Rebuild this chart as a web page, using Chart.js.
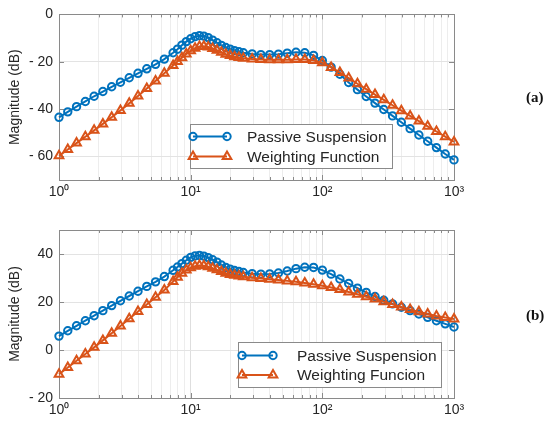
<!DOCTYPE html>
<html>
<head>
<meta charset="utf-8">
<script src="https://cdn.jsdelivr.net/npm/chart.js@4.4.0/dist/chart.umd.min.js"></script>
<style>
  body { margin: 0; background: #fff; width: 550px; height: 427px; position: relative; overflow: hidden; }
  canvas { position: absolute; left: 0; }
  #chartA { top: 0; }
  #chartB { top: 210px; }
  .tag { position: absolute; left: 526px; font: bold 15px "Liberation Serif", "Times New Roman", serif; line-height: 15px; color: #111; }
</style>
</head>
<body>
<canvas id="chartA" width="550" height="210"></canvas>
<canvas id="chartB" width="550" height="217"></canvas>
<div class="tag" style="top:90px">(a)</div>
<div class="tag" style="top:308px">(b)</div>
<script>
// frequency points (rad/s) (denser round the peak)
const freq = [1, 1.166, 1.359, 1.585, 1.848, 2.154, 2.512, 2.929, 3.415, 3.981,
  4.642, 5.412, 6.31, 7.356, 7.943, 8.577, 9.261, 10, 10.8, 11.66,
  12.59, 13.59, 14.68, 15.85, 17.11, 18.48, 19.95, 21.54, 23.26, 25.12,
  29.29, 34.15, 39.81, 46.42, 54.12, 63.1, 73.56, 85.77,
  100, 116.6, 135.9, 158.5, 184.8, 215.4, 251.2, 292.9, 341.5, 398.1,
  464.2, 541.2, 631, 735.6, 857.7, 1000];

// (a)
const passiveA = [-43.5, -41.2, -39.0, -36.8, -34.6, -32.6, -30.6, -28.7, -26.8, -24.9,
  -23.0, -21.1, -18.9, -16.2, -14.7, -13.0, -11.5, -10.3, -9.4, -9.0,
  -9.2, -9.8, -10.9, -12.0, -13.1, -14.0, -14.7, -15.3, -15.8, -16.2,
  -16.7, -17.0, -17.0, -16.8, -16.4, -16.0, -16.2, -17.3,
  -19.5, -22.3, -25.3, -28.8, -31.8, -34.7, -37.5, -40.2, -42.9, -45.6,
  -48.3, -51.0, -53.6, -56.3, -59.0, -61.5];
const weightA = [-59.8, -57.1, -54.4, -51.7, -49.0, -46.3, -43.5, -40.6, -37.6, -34.5,
  -31.3, -28.1, -24.9, -21.6, -19.9, -18.3, -16.7, -15.4, -14.3, -13.6,
  -13.5, -13.8, -14.4, -15.2, -16.0, -16.8, -17.4, -17.9, -18.2, -18.5,
  -18.9, -19.1, -19.2, -19.2, -19.2, -19.1, -19.1, -19.5,
  -20.4, -22.4, -24.6, -26.9, -29.3, -31.6, -33.9, -36.1, -38.4, -40.7,
  -42.9, -45.1, -47.3, -49.5, -51.7, -53.9];

// (b)
const passiveB = [5.8, 8.0, 10.1, 12.2, 14.3, 16.4, 18.5, 20.5, 22.5, 24.5,
  26.5, 28.4, 30.6, 33.2, 34.6, 36.0, 37.4, 38.6, 39.2, 39.4,
  39.1, 38.5, 37.6, 36.6, 35.4, 34.4, 33.7, 33.1, 32.7, 32.3,
  31.8, 31.6, 31.7, 32.1, 32.9, 33.9, 34.5, 34.4,
  33.3, 31.6, 29.6, 27.7, 25.8, 24.0, 22.3, 20.7, 19.2, 17.8,
  16.4, 15.0, 13.6, 12.2, 10.9, 9.6];
const weightB = [-10.1, -7.3, -4.5, -1.7, 1.1, 4.0, 7.0, 10.0, 13.0, 16.0,
  19.0, 22.0, 25.0, 28.5, 30.3, 32.0, 33.3, 34.3, 34.9, 35.2,
  35.1, 34.7, 34.1, 33.4, 32.7, 32.0, 31.5, 31.1, 30.8, 30.5,
  30.1, 29.8, 29.5, 29.2, 28.8, 28.4, 27.9, 27.4,
  26.8, 26.0, 25.2, 24.2, 23.2, 22.2, 21.2, 20.1, 19.0, 17.9,
  16.9, 15.9, 15.0, 14.2, 13.5, 12.9];

const xTickValues = [1, 10, 100, 1000];
const xTickLabels = ['10⁰', '10¹', '10²', '10³'];
const yTicksA = [-60, -40, -20, 0];
const yTicksB = [-20, 0, 20, 40];
const legendA = ['Passive Suspension', 'Weighting Function'];
const legendB = ['Passive Suspension', 'Weighting Funcion'];

const BLUE = '#0072BD';
const ORANGE = '#D95319';
const AXIS = '#8a8a8a';
const TEXT = '#262626';
const FONT = '"Liberation Sans", Arial, Helvetica, sans-serif';

// log grid: 1..9 x each decade, plus 1000
const xGrid = [];
for (let d = 1; d < 1000; d *= 10) {
  for (let m = 1; m < 10; m++) xGrid.push(m * d);
}
xGrid.push(1000);

function marker(ctx, style, x, y, r) {
  ctx.beginPath();
  if (style === 'triangle') {
    let a = 0;
    ctx.moveTo(x + Math.sin(a) * r, y - Math.cos(a) * r);
    a += Math.PI * 2 / 3;
    ctx.lineTo(x + Math.sin(a) * r, y - Math.cos(a) * r);
    a += Math.PI * 2 / 3;
    ctx.lineTo(x + Math.sin(a) * r, y - Math.cos(a) * r);
    ctx.closePath();
  } else {
    ctx.arc(x, y, r, 0, Math.PI * 2);
  }
  ctx.stroke();
}

// box round the axes with inward ticks on all four sides
const frame = {
  id: 'frame',
  beforeDatasetsDraw(chart) {
    const { ctx, chartArea: a, scales: { x, y } } = chart;
    ctx.save();
    ctx.strokeStyle = AXIS;
    ctx.lineWidth = 1;
    ctx.beginPath();
    x.ticks.forEach(t => {
      const px = Math.round(x.getPixelForValue(t.value)) + 0.5;
      const len = t.major ? 5 : 3;
      ctx.moveTo(px, a.bottom); ctx.lineTo(px, a.bottom - len);
      ctx.moveTo(px, a.top); ctx.lineTo(px, a.top + len);
    });
    y.ticks.forEach(t => {
      const py = Math.round(y.getPixelForValue(t.value)) + 0.5;
      ctx.moveTo(a.left, py); ctx.lineTo(a.left + 5, py);
      ctx.moveTo(a.right, py); ctx.lineTo(a.right - 5, py);
    });
    ctx.stroke();
    ctx.strokeRect(Math.round(a.left) + 0.5, Math.round(a.top) + 0.5,
      Math.round(a.right - a.left), Math.round(a.bottom - a.top));
    ctx.restore();
  }
};

// MATLAB-like legend box inside the axes
const boxLegend = {
  id: 'boxLegend',
  afterDatasetsDraw(chart, args, opts) {
    const ctx = chart.ctx;
    const [bx, by, bw, bh] = opts.box;
    ctx.save();
    ctx.fillStyle = '#fff';
    ctx.fillRect(bx, by, bw, bh);
    ctx.strokeStyle = AXIS;
    ctx.lineWidth = 1;
    ctx.strokeRect(bx + 0.5, by + 0.5, bw, bh);
    chart.data.datasets.forEach((ds, i) => {
      const yy = opts.rows[i];
      ctx.strokeStyle = ds.borderColor;
      ctx.lineWidth = ds.borderWidth;
      ctx.beginPath();
      ctx.moveTo(opts.lineX[0], yy);
      ctx.lineTo(opts.lineX[1], yy);
      ctx.stroke();
      ctx.lineWidth = ds.pointBorderWidth;
      opts.lineX.forEach(px => marker(ctx, ds.pointStyle, px, yy, ds.pointRadius));
      ctx.fillStyle = TEXT;
      ctx.font = '15.5px ' + FONT;
      ctx.textBaseline = 'middle';
      ctx.fillText(ds.label, opts.textX, yy + 1);
    });
    ctx.restore();
  }
};

function makeChart(id, passive, weight, labels, yMin, yMax, yTicks, padTop, xAxisH, legendOpts) {
  const ctx = document.getElementById(id).getContext('2d');
  return new Chart(ctx, {
    type: 'line',
    data: {
      datasets: [{
        label: labels[0],
        data: freq.map((f, i) => ({ x: f, y: passive[i] })),
        borderColor: BLUE,
        borderWidth: 2,
        pointStyle: 'circle',
        pointRadius: 3.7,
        pointBorderWidth: 2,
        pointBorderColor: BLUE,
        pointBackgroundColor: 'rgba(0,0,0,0)',
        clip: false,
        order: 1
      }, {
        label: labels[1],
        data: freq.map((f, i) => ({ x: f, y: weight[i] })),
        borderColor: ORANGE,
        borderWidth: 2,
        pointStyle: 'triangle',
        pointRadius: 5,
        pointBorderWidth: 2,
        pointBorderColor: ORANGE,
        pointBackgroundColor: 'rgba(0,0,0,0)',
        clip: false,
        order: 0
      }]
    },
    options: {
      responsive: false,
      animation: false,
      events: [],
      layout: { padding: { left: 0, right: 96, top: padTop, bottom: 0 } },
      plugins: {
        legend: { display: false },
        tooltip: { enabled: false },
        boxLegend: legendOpts
      },
      scales: {
        x: {
          type: 'logarithmic',
          min: 1,
          max: 1000,
          afterBuildTicks: s => {
            s.ticks = xGrid.map(v => ({ value: v, major: xTickValues.includes(v) }));
          },
          afterFit: s => { s.height = xAxisH; },
          ticks: {
            autoSkip: false,
            maxRotation: 0,
            padding: 4,
            color: TEXT,
            font: { family: FONT, size: 14 },
            callback: v => {
              const k = xTickValues.indexOf(v);
              return k >= 0 ? xTickLabels[k] : '';
            }
          },
          grid: {
            drawTicks: false,
            color: c => (c.tick && c.tick.major) ? '#dedede' : '#ededed'
          },
          border: { display: false }
        },
        y: {
          type: 'linear',
          min: yMin,
          max: yMax,
          afterBuildTicks: s => { s.ticks = yTicks.map(v => ({ value: v })); },
          afterFit: s => { s.width = 59; },
          ticks: {
            padding: 6,
            color: TEXT,
            font: { family: FONT, size: 14 },
            callback: v => v < 0 ? '- ' + (-v) : String(v)
          },
          grid: { drawTicks: false, color: '#e3e3e3' },
          border: { display: false },
          title: {
            display: true,
            text: 'Magnitude (dB)',
            color: TEXT,
            font: { family: FONT, size: 14 },
            padding: { top: 7, bottom: 0 }
          }
        }
      }
    },
    plugins: [frame, boxLegend]
  });
}

makeChart('chartA', passiveA, weightA, legendA, -70, 0, yTicksA, 12, 30,
  { box: [190, 124, 202, 44], rows: [136.5, 156.5], lineX: [193, 227], textX: 247 });

makeChart('chartB', passiveB, weightB, legendB, -20, 50, yTicksB, 20, 29,
  { box: [238, 132, 203, 45], rows: [145.5, 165], lineX: [242, 273], textX: 297 });
</script>
</body>
</html>
